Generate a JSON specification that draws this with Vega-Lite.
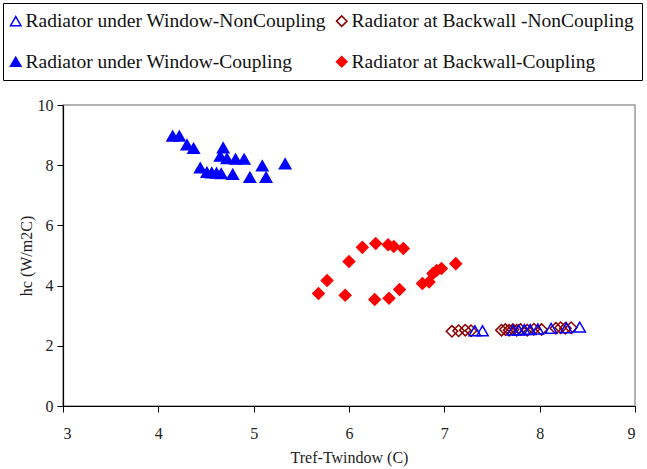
{
  "$schema": "https://vega.github.io/schema/vega-lite/v6.json",
  "width": 572,
  "height": 301,
  "autosize": {"type": "none"},
  "padding": {"left": 63, "top": 105, "right": 12, "bottom": 63},
  "background": "white",
  "config": {
    "view": {"stroke": "#999999", "strokeWidth": 1.5},
    "font": "Liberation Serif",
    "axis": {
      "grid": false,
      "domainColor": "#000000",
      "domainWidth": 1.2,
      "tickColor": "#000000",
      "tickSize": 6,
      "labelFont": "Liberation Serif",
      "labelFontSize": 16,
      "labelColor": "#222222",
      "titleFont": "Liberation Serif",
      "titleFontSize": 16,
      "titleFontWeight": "normal",
      "titleColor": "#222222"
    }
  },
  "data": {
    "values": [
      {"series": "Radiator under Window-Coupling", "x": 4.15, "y": 8.97},
      {"series": "Radiator under Window-Coupling", "x": 4.22, "y": 8.97},
      {"series": "Radiator under Window-Coupling", "x": 4.30, "y": 8.68},
      {"series": "Radiator under Window-Coupling", "x": 4.37, "y": 8.56},
      {"series": "Radiator under Window-Coupling", "x": 4.44, "y": 7.91},
      {"series": "Radiator under Window-Coupling", "x": 4.51, "y": 7.76},
      {"series": "Radiator under Window-Coupling", "x": 4.56, "y": 7.75},
      {"series": "Radiator under Window-Coupling", "x": 4.61, "y": 7.74},
      {"series": "Radiator under Window-Coupling", "x": 4.66, "y": 7.72},
      {"series": "Radiator under Window-Coupling", "x": 4.68, "y": 8.58},
      {"series": "Radiator under Window-Coupling", "x": 4.65, "y": 8.30},
      {"series": "Radiator under Window-Coupling", "x": 4.72, "y": 8.22},
      {"series": "Radiator under Window-Coupling", "x": 4.78, "y": 7.70},
      {"series": "Radiator under Window-Coupling", "x": 4.81, "y": 8.20},
      {"series": "Radiator under Window-Coupling", "x": 4.90, "y": 8.20},
      {"series": "Radiator under Window-Coupling", "x": 4.96, "y": 7.60},
      {"series": "Radiator under Window-Coupling", "x": 5.09, "y": 7.98},
      {"series": "Radiator under Window-Coupling", "x": 5.13, "y": 7.60},
      {"series": "Radiator under Window-Coupling", "x": 5.33, "y": 8.05},
      {"series": "Radiator at Backwall-Coupling", "x": 5.68, "y": 3.74},
      {"series": "Radiator at Backwall-Coupling", "x": 5.77, "y": 4.17},
      {"series": "Radiator at Backwall-Coupling", "x": 6.00, "y": 4.80},
      {"series": "Radiator at Backwall-Coupling", "x": 6.14, "y": 5.27},
      {"series": "Radiator at Backwall-Coupling", "x": 6.28, "y": 5.40},
      {"series": "Radiator at Backwall-Coupling", "x": 6.41, "y": 5.36},
      {"series": "Radiator at Backwall-Coupling", "x": 6.47, "y": 5.30},
      {"series": "Radiator at Backwall-Coupling", "x": 6.57, "y": 5.23},
      {"series": "Radiator at Backwall-Coupling", "x": 5.96, "y": 3.68},
      {"series": "Radiator at Backwall-Coupling", "x": 6.27, "y": 3.54},
      {"series": "Radiator at Backwall-Coupling", "x": 6.42, "y": 3.58},
      {"series": "Radiator at Backwall-Coupling", "x": 6.53, "y": 3.87},
      {"series": "Radiator at Backwall-Coupling", "x": 6.77, "y": 4.07},
      {"series": "Radiator at Backwall-Coupling", "x": 6.84, "y": 4.12},
      {"series": "Radiator at Backwall-Coupling", "x": 6.88, "y": 4.40},
      {"series": "Radiator at Backwall-Coupling", "x": 6.92, "y": 4.50},
      {"series": "Radiator at Backwall-Coupling", "x": 6.97, "y": 4.57},
      {"series": "Radiator at Backwall-Coupling", "x": 7.12, "y": 4.73},
      {"series": "Radiator at Backwall -NonCoupling", "x": 7.08, "y": 2.48},
      {"series": "Radiator at Backwall -NonCoupling", "x": 7.15, "y": 2.50},
      {"series": "Radiator at Backwall -NonCoupling", "x": 7.22, "y": 2.52},
      {"series": "Radiator at Backwall -NonCoupling", "x": 7.28, "y": 2.50},
      {"series": "Radiator at Backwall -NonCoupling", "x": 7.60, "y": 2.52},
      {"series": "Radiator at Backwall -NonCoupling", "x": 7.64, "y": 2.54},
      {"series": "Radiator at Backwall -NonCoupling", "x": 7.68, "y": 2.52},
      {"series": "Radiator at Backwall -NonCoupling", "x": 7.72, "y": 2.54},
      {"series": "Radiator at Backwall -NonCoupling", "x": 7.76, "y": 2.52},
      {"series": "Radiator at Backwall -NonCoupling", "x": 7.80, "y": 2.54},
      {"series": "Radiator at Backwall -NonCoupling", "x": 7.87, "y": 2.52},
      {"series": "Radiator at Backwall -NonCoupling", "x": 7.94, "y": 2.55},
      {"series": "Radiator at Backwall -NonCoupling", "x": 8.02, "y": 2.54},
      {"series": "Radiator at Backwall -NonCoupling", "x": 8.17, "y": 2.58},
      {"series": "Radiator at Backwall -NonCoupling", "x": 8.22, "y": 2.60},
      {"series": "Radiator at Backwall -NonCoupling", "x": 8.27, "y": 2.58},
      {"series": "Radiator at Backwall -NonCoupling", "x": 8.33, "y": 2.60},
      {"series": "Radiator under Window-NonCoupling", "x": 7.32, "y": 2.50},
      {"series": "Radiator under Window-NonCoupling", "x": 7.40, "y": 2.50},
      {"series": "Radiator under Window-NonCoupling", "x": 7.72, "y": 2.52},
      {"series": "Radiator under Window-NonCoupling", "x": 7.78, "y": 2.52},
      {"series": "Radiator under Window-NonCoupling", "x": 7.84, "y": 2.54},
      {"series": "Radiator under Window-NonCoupling", "x": 7.90, "y": 2.54},
      {"series": "Radiator under Window-NonCoupling", "x": 7.98, "y": 2.56},
      {"series": "Radiator under Window-NonCoupling", "x": 8.12, "y": 2.58},
      {"series": "Radiator under Window-NonCoupling", "x": 8.28, "y": 2.60},
      {"series": "Radiator under Window-NonCoupling", "x": 8.42, "y": 2.62}
    ]
  },
  "mark": {"type": "point", "size": 130, "strokeWidth": 1.5, "opacity": 1},
  "encoding": {
    "x": {
      "field": "x", "type": "quantitative",
      "scale": {"domain": [3, 9], "nice": false, "zero": false},
      "axis": {"values": [3, 4, 5, 6, 7, 8, 9], "title": "Tref-Twindow (C)", "labelPadding": 13, "titlePadding": 8}
    },
    "y": {
      "field": "y", "type": "quantitative",
      "scale": {"domain": [0, 10], "nice": false},
      "axis": {"values": [0, 2, 4, 6, 8, 10], "title": "hc (W/m2C)", "labelPadding": 4, "titlePadding": 3}
    },
    "shape": {
      "field": "series", "type": "nominal",
      "scale": {
        "domain": ["Radiator under Window-NonCoupling", "Radiator at Backwall -NonCoupling", "Radiator under Window-Coupling", "Radiator at Backwall-Coupling"],
        "range": ["triangle-up", "diamond", "triangle-up", "diamond"]
      },
      "legend": {
        "title": null,
        "orient": "none",
        "direction": "horizontal",
        "legendX": -60,
        "legendY": -102,
        "columns": 2,
        "columnPadding": 7,
        "rowPadding": 20,
        "padding": 8,
        "strokeColor": "#000000",
        "fillColor": "#ffffff",
        "labelFont": "Liberation Serif",
        "labelFontSize": 19.5,
        "labelColor": "#111111",
        "labelLimit": 400,
        "labelOffset": 0,
        "symbolOffset": -5,
        "symbolSize": 110,
        "symbolStrokeWidth": 1.5
      }
    },
    "fill": {
      "field": "series", "type": "nominal",
      "scale": {
        "domain": ["Radiator under Window-NonCoupling", "Radiator at Backwall -NonCoupling", "Radiator under Window-Coupling", "Radiator at Backwall-Coupling"],
        "range": ["transparent", "transparent", "#0000ff", "#ff0000"]
      }
    },
    "stroke": {
      "field": "series", "type": "nominal",
      "scale": {
        "domain": ["Radiator under Window-NonCoupling", "Radiator at Backwall -NonCoupling", "Radiator under Window-Coupling", "Radiator at Backwall-Coupling"],
        "range": ["#0000ff", "#8b0000", "#0000ff", "#ff0000"]
      }
    }
  }
}
